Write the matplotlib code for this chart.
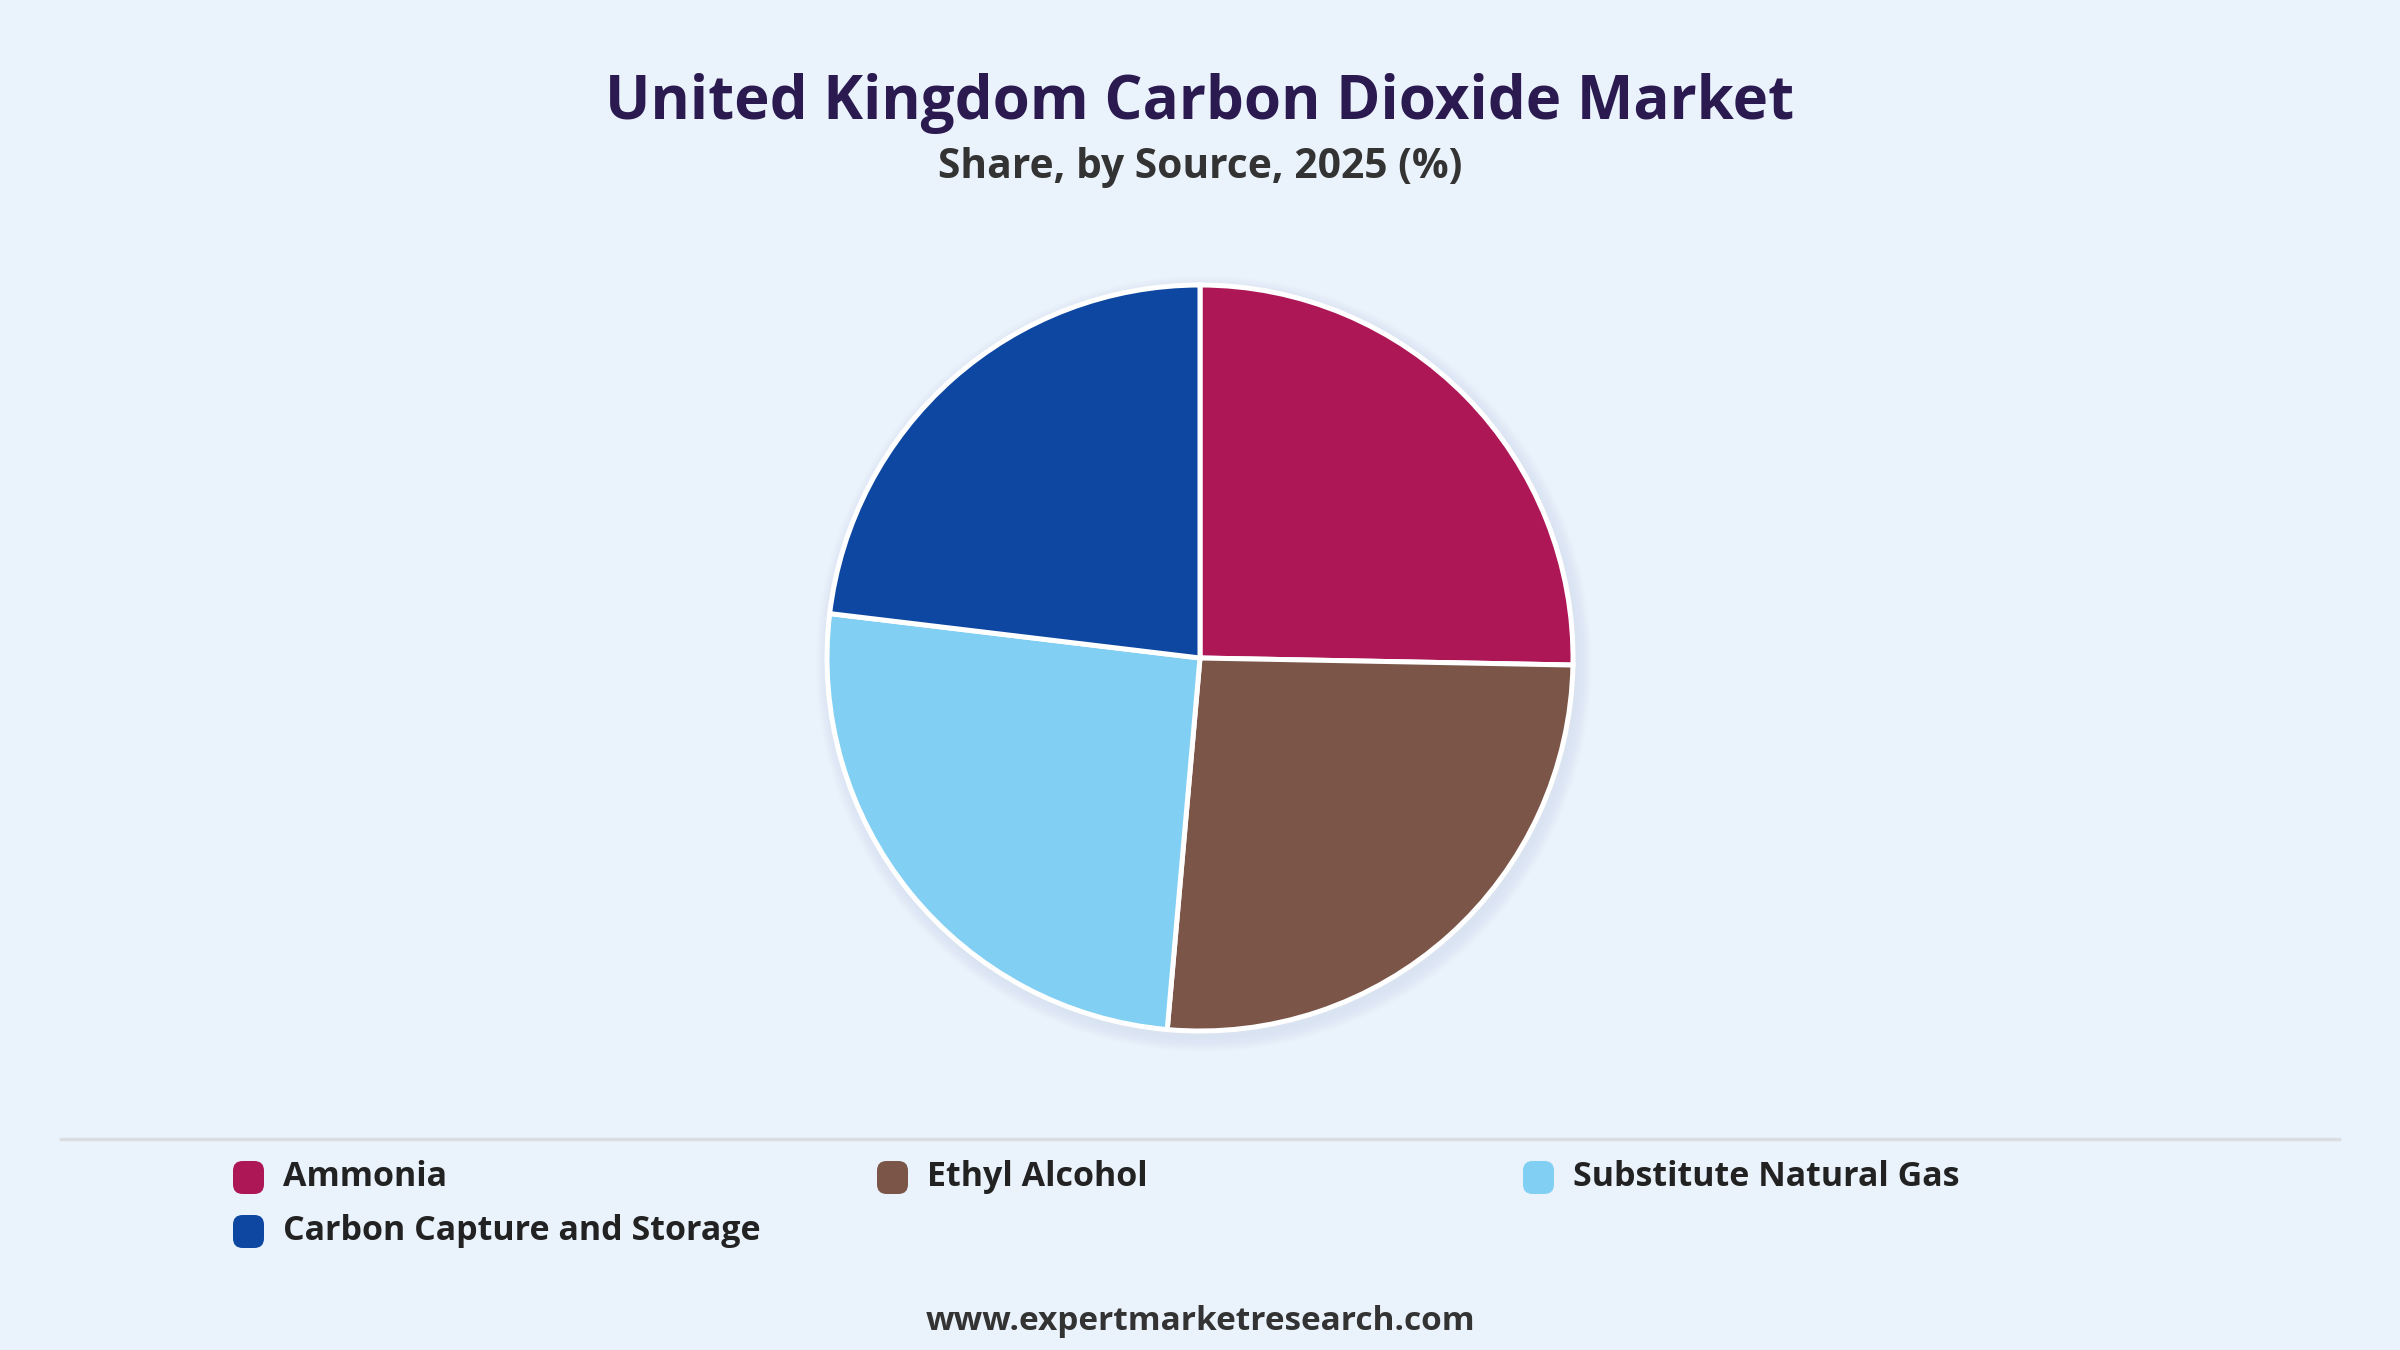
import matplotlib
matplotlib.use("Agg")
import matplotlib.pyplot as plt
from matplotlib.patches import FancyBboxPatch, Circle

categories = ["Ammonia", "Ethyl Alcohol", "Substitute Natural Gas", "Carbon Capture and Storage"]
values = [25.3, 26.1, 25.5, 23.1]
colors = ["#AD1756", "#7A5548", "#81CFF2", "#0D47A1"]

title = "United Kingdom Carbon Dioxide Market"
subtitle = "Share, by Source, 2025 (%)"
footer = "www.expertmarketresearch.com"

BG = "#EAF2FC"
W, H = 2400, 1350
fig = plt.figure(figsize=(24, 13.5), dpi=100, facecolor=BG)
plt.rcParams['font.family'] = ['Open Sans', 'DejaVu Sans']

fig.text(0.5, 1 - 103 / H, title, ha="center", va="center", fontsize=43.2,
         fontweight="bold", color="#2B1A4F")
fig.text(0.5, 1 - 168 / H, subtitle, ha="center", va="center", fontsize=29.3,
         fontweight="bold", color="#333333")

cx, cy, r = 1200, 658, 373
s = 1.06
ax = fig.add_axes([(cx - r * s) / W, (H - cy - r * s) / H, 2 * r * s / W, 2 * r * s / H])
ax.set_facecolor("none")
# soft shadow
for i in range(10):
    ax.add_patch(Circle((0.01, -0.015), 1.0 + 0.004 * (10 - i), color="#8a94a6",
                        alpha=0.011, lw=0, zorder=0))
ax.pie(values, colors=colors, startangle=90, counterclock=False, radius=1.0,
       wedgeprops=dict(edgecolor="white", linewidth=3.6))
ax.set_xlim(-s, s)
ax.set_ylim(-s, s)
ax.set_aspect("equal")
ax.axis("off")

# separator line
fig.add_artist(plt.Line2D([61 / W, 2339 / W], [1 - 1139 / H, 1 - 1139 / H],
                          color="#DADDE2", lw=2.5))

# legend
col_x = [233, 877, 1523]
row_y = [1177, 1231]
for i, (lab, c) in enumerate(zip(categories, colors)):
    x = col_x[i % 3]
    y = row_y[i // 3]
    box = FancyBboxPatch((x / W, 1 - (y + 17) / H), 31 / W, 33 / H,
                         boxstyle="round,pad=0,rounding_size=0.004",
                         transform=fig.transFigure, facecolor=c, edgecolor="none",
                         mutation_aspect=W / H)
    fig.add_artist(box)
    fig.text((x + 50) / W, 1 - y / H, lab, ha="left", va="center", fontsize=24.5,
             fontweight="bold", color="#222222")

fig.text(0.5, 1 - 1322 / H, footer, ha="center", va="center", fontsize=24,
         fontweight="bold", color="#333333")

fig.savefig("out.png", dpi=100, facecolor=BG)
